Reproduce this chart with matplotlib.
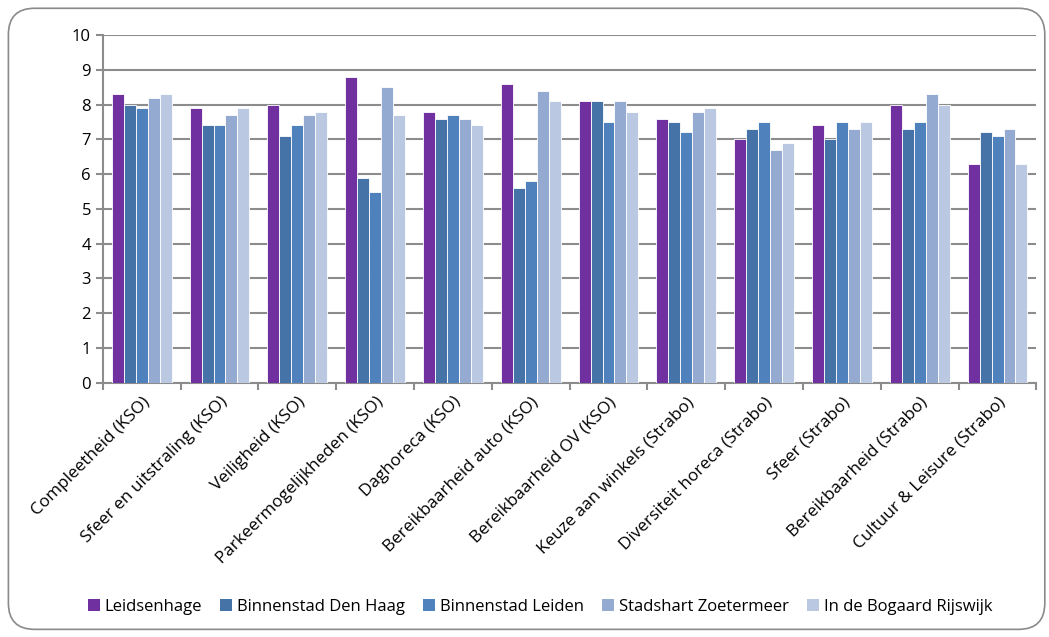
import numpy as np
from matplotlib import pyplot as plt
from matplotlib.patches import FancyBboxPatch, Patch

categories = ["Compleetheid (KSO)", "Sfeer en uitstraling (KSO)", "Veiligheid (KSO)",
              "Parkeermogelijkheden (KSO)", "Daghoreca (KSO)", "Bereikbaarheid auto (KSO)",
              "Bereikbaarheid OV (KSO)", "Keuze aan winkels (Strabo)", "Diversiteit horeca (Strabo)",
              "Sfeer (Strabo)", "Bereikbaarheid (Strabo)", "Cultuur & Leisure (Strabo)"]
series_names = ["Leidsenhage", "Binnenstad Den Haag", "Binnenstad Leiden",
                "Stadshart Zoetermeer", "In de Bogaard Rijswijk"]
leidsenhage = [8.3, 7.9, 8.0, 8.8, 7.8, 8.6, 8.1, 7.6, 7.0, 7.4, 8.0, 6.3]
den_haag = [8.0, 7.4, 7.1, 5.9, 7.6, 5.6, 8.1, 7.5, 7.3, 7.0, 7.3, 7.2]
leiden = [7.9, 7.4, 7.4, 5.5, 7.7, 5.8, 7.5, 7.2, 7.5, 7.5, 7.5, 7.1]
zoetermeer = [8.2, 7.7, 7.7, 8.5, 7.6, 8.4, 8.1, 7.8, 6.7, 7.3, 8.3, 7.3]
rijswijk = [8.3, 7.9, 7.8, 7.7, 7.4, 8.1, 7.8, 7.9, 6.9, 7.5, 8.0, 6.3]
colors = ["#7030A0", "#4573A7", "#4F81BD", "#95AAD0", "#BBC8E1"]

plt.rcParams['font.family'] = ['Open Sans', 'DejaVu Sans']

fig = plt.figure(figsize=(10.49, 6.37), dpi=100)
fig.patch.set_facecolor('white')
# rounded chart frame
frame = FancyBboxPatch((0.008, 0.012), 0.988, 0.975, boxstyle="round,pad=0,rounding_size=0.025",
                       transform=fig.transFigure, facecolor='none', edgecolor='#8a8a8a',
                       linewidth=1.2, mutation_aspect=1.65, zorder=-1)
fig.patches.append(frame)

ax = fig.add_axes([0.098, 0.399, 0.89, 0.546])
ax.set_facecolor('none')

data = [leidsenhage, den_haag, leiden, zoetermeer, rijswijk]
x = np.arange(len(categories))
w = 0.154
for i, vals in enumerate(data):
    ax.bar(x + (i - 2) * w, vals, width=w, color=colors[i], edgecolor='white',
           linewidth=0.6, label=series_names[i], zorder=3)

ax.set_xlim(-0.5, len(categories) - 0.5)
ax.set_ylim(0, 10)
ax.set_yticks(range(0, 11))
ax.grid(axis='y', color='#8c8c8c', linewidth=1.5, zorder=0)
ax.set_axisbelow(True)
for s in ['top', 'right']:
    ax.spines[s].set_visible(False)
for s in ['left', 'bottom']:
    ax.spines[s].set_color('#8c8c8c')
    ax.spines[s].set_linewidth(1.5)

ax.set_xticks(np.arange(-0.5, len(categories), 1.0))
ax.set_xticklabels([])
ax.set_xticks(x, minor=True)
ax.set_xticklabels(categories, minor=True, rotation=45, ha='right', rotation_mode='anchor',
                   fontsize=12.3)
ax.tick_params(axis='x', which='minor', length=0, pad=8)
ax.tick_params(axis='x', which='major', length=5, width=1.5, color='#8c8c8c')
ax.tick_params(axis='y', length=5, width=1.5, color='#8c8c8c', labelsize=12)

handles = [Patch(facecolor=c, edgecolor='none') for c in colors]
fig.legend(handles, series_names, loc='center', bbox_to_anchor=(0.515, 0.047), ncol=5,
           frameon=False, fontsize=12, handlelength=0.7, handleheight=0.7,
           handletextpad=0.3, columnspacing=1.1)

plt.savefig("out.png", dpi=100)
